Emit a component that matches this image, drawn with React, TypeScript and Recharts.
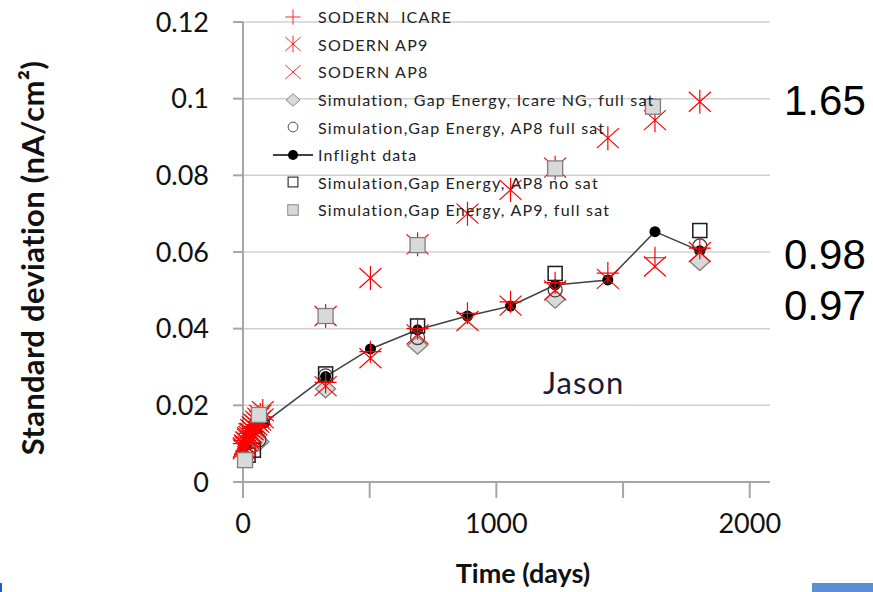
import React from "react";
import {
  ScatterChart,
  Scatter,
  XAxis,
  YAxis,
  CartesianGrid,
} from "recharts";

// days since launch for the main measurement epochs
const epochDays = [326, 503, 689, 886, 1056, 1232, 1440, 1626, 1803];

// early points (first ~3 months), crowded near the origin
const earlyDays = [3, 8, 14, 20, 26, 32, 38, 45, 52, 60, 68, 78];

const icareEarly = [0.0100, 0.0108, 0.0115, 0.0120, 0.0127, 0.0133, 0.0140, 0.0145, 0.0150, 0.0158, 0.0163, 0.0170];
const icareMain = [0.0260, 0.0340, 0.0400, 0.0440, 0.0470, 0.0520, 0.0545, 0.0585, 0.0610];

const ap9Early = [0.0085, 0.0095, 0.0105, 0.0117, 0.0128, 0.0138, 0.0145, 0.0152, 0.0160, 0.0168, 0.0175, 0.0185];
const ap9Main = [0.0433, 0.0532, 0.0620, 0.0700, 0.0762, 0.0820, 0.0897, 0.0944, 0.0992];

const ap8Early = [0.0090, 0.0098, 0.0106, 0.0113, 0.0120, 0.0128, 0.0135, 0.0142, 0.0148, 0.0155, 0.0160, 0.0166];
const ap8Main = [0.0250, 0.0323, 0.0385, 0.0420, 0.0460, 0.0500, 0.0530, 0.0562, 0.0600];

// simulations: early point(s) + the epochs
const simDays = [63, 326, 689, 1232, 1803];
const simIcareNg = [0.0105, 0.0243, 0.0357, 0.0477, 0.0575];
const simAp8Full = [0.0110, 0.0277, 0.0377, 0.0501, 0.0616];
const simAp8NoSatDays = [20, 41, 326, 689, 1232, 1803];
const simAp8NoSat = [0.0070, 0.0083, 0.0282, 0.0407, 0.0544, 0.0656];
const simAp9Days = [8, 63, 326, 689, 1232, 1618];
const simAp9Full = [0.0057, 0.0175, 0.0433, 0.0618, 0.0818, 0.0979];

const inflightDays = [10, 25, 40, 55, 85, 326, 503, 689, 886, 1056, 1232, 1440, 1626, 1803];
const inflight = [0.0095, 0.0105, 0.0115, 0.0130, 0.0155, 0.0275, 0.0347, 0.0397, 0.0433, 0.0459, 0.0514, 0.0527, 0.0653, 0.0603];

const xTicks = [0, 500, 1000, 1500, 2000];
const yTicks = [0, 0.02, 0.04, 0.06, 0.08, 0.1, 0.12];

const rightNotes = [
  { text: "1.65", top: 101 },
  { text: "0.98", top: 255 },
  { text: "0.97", top: 306 },
];

const toPoints = (xs: number[], ys: number[]) =>
  xs.map((x, i) => ({ x, y: ys[i] }));

const RED = "#ff0000";
const GRAY_FILL = "#d9d9d9";
const GRAY_EDGE = "#7f7f7f";

const Plus = ({ cx, cy }: any) => (
  <path d={`M${cx - 11},${cy}H${cx + 11}M${cx},${cy - 11}V${cy + 11}`} stroke={RED} strokeWidth={1.2} fill="none" />
);
const Cross = ({ cx, cy }: any) => (
  <path d={`M${cx - 11},${cy - 10}L${cx + 11},${cy + 10}M${cx - 11},${cy + 10}L${cx + 11},${cy - 10}`} stroke={RED} strokeWidth={1.2} fill="none" />
);
const Star = ({ cx, cy }: any) => (
  <path
    d={`M${cx - 11},${cy - 10}L${cx + 11},${cy + 10}M${cx - 11},${cy + 10}L${cx + 11},${cy - 10}M${cx},${cy - 12}V${cy + 12}`}
    stroke={RED}
    strokeWidth={1.2}
    fill="none"
  />
);
const Diamond = ({ cx, cy }: any) => (
  <path d={`M${cx},${cy - 9}L${cx + 10},${cy}L${cx},${cy + 9}L${cx - 10},${cy}Z`} fill={GRAY_FILL} stroke={GRAY_EDGE} strokeWidth={1.3} />
);
const OpenCircle = ({ cx, cy }: any) => (
  <circle cx={cx} cy={cy} r={7} fill="none" stroke="#404040" strokeWidth={1.3} />
);
const OpenSquare = ({ cx, cy }: any) => (
  <rect x={cx - 7} y={cy - 7} width={14} height={14} fill="none" stroke="#1a1a1a" strokeWidth={1.5} />
);
const GraySquare = ({ cx, cy }: any) => (
  <rect x={cx - 7.5} y={cy - 7.5} width={15} height={15} fill={GRAY_FILL} stroke={GRAY_EDGE} strokeWidth={1.3} />
);
const Dot = ({ cx, cy }: any) => <circle cx={cx} cy={cy} r={5.5} fill="#000" />;

const legendItems = [
  { name: "SODERN  ICARE", Mark: Plus },
  { name: "SODERN AP9", Mark: Star },
  { name: "SODERN AP8", Mark: Cross },
  { name: "Simulation, Gap Energy, Icare NG, full sat", Mark: Diamond },
  { name: "Simulation,Gap Energy, AP8 full sat", Mark: OpenCircle },
  { name: "Inflight data", Mark: null },
  { name: "Simulation,Gap Energy, AP8 no sat", Mark: OpenSquare },
  { name: "Simulation,Gap Energy, AP9, full sat", Mark: GraySquare },
];

// legend sits over the plot, partly above the top gridline, like the original
const LegendBox = () => (
  <div style={{ position: "absolute", left: 270, top: 3, fontFamily: "Lato, sans-serif", fontSize: 16, color: "#222" }}>
    {legendItems.map(({ name, Mark }) => (
      <div key={name} style={{ display: "flex", alignItems: "center", height: 27.6 }}>
        <svg width={46} height={26} style={{ marginRight: 2 }}>
          {Mark ? (
            <g transform="translate(23,13) scale(0.7) translate(-23,-13)">
              <Mark cx={23} cy={13} />
            </g>
          ) : (
            <g>
              <line x1={3} y1={13} x2={43} y2={13} stroke="#000" strokeWidth={1.3} />
              <circle cx={23} cy={13} r={5} fill="#000" />
            </g>
          )}
        </svg>
        <span style={{ letterSpacing: 1.2, whiteSpace: "pre" }}>{name}</span>
      </div>
    ))}
  </div>
);

const fmtY = (v: number) => String(Number(v.toFixed(2)));
const fmtX = (v: number) => (v % 1000 === 0 ? String(v) : "");

const tickStyle = { fontFamily: "Lato, sans-serif", fontSize: 27, fill: "#111" };

export default function App() {
  return (
    <div style={{ position: "absolute", left: 0, top: 0, width: 873, height: 592, background: "#fff", overflow: "hidden" }}>
      <ScatterChart width={873} height={592} margin={{ top: 22, right: 103, bottom: 0, left: 0 }}>
        <CartesianGrid vertical={false} stroke="#d0d0d0" strokeWidth={1.5} />
        <XAxis
          type="number"
          dataKey="x"
          domain={[0, 2080]}
          ticks={xTicks}
          tickFormatter={fmtX}
          height={110}
          tickSize={16}
          tickMargin={16}
          stroke="#a6a6a6"
          strokeWidth={2}
          tick={tickStyle}
        />
        <YAxis
          type="number"
          dataKey="y"
          domain={[0, 0.12]}
          ticks={yTicks}
          tickFormatter={fmtY}
          width={243}
          tickSize={10}
          tickMargin={24}
          stroke="#a6a6a6"
          strokeWidth={2}
          tick={tickStyle}
        />
        <Scatter
          name="Inflight data"
          data={toPoints(inflightDays, inflight)}
          line={{ stroke: "#404040", strokeWidth: 1.5 }}
          shape={Dot}
          isAnimationActive={false}
        />
        <Scatter name="Simulation, Gap Energy, Icare NG, full sat" data={toPoints(simDays, simIcareNg)} shape={Diamond} isAnimationActive={false} />
        <Scatter name="Simulation,Gap Energy, AP8 full sat" data={toPoints(simDays, simAp8Full)} shape={OpenCircle} isAnimationActive={false} />
        <Scatter name="Simulation,Gap Energy, AP8 no sat" data={toPoints(simAp8NoSatDays, simAp8NoSat)} shape={OpenSquare} isAnimationActive={false} />
        <Scatter name="SODERN  ICARE" data={toPoints([...earlyDays, ...epochDays], [...icareEarly, ...icareMain])} shape={Plus} isAnimationActive={false} />
        <Scatter name="SODERN AP8" data={toPoints([...earlyDays, ...epochDays], [...ap8Early, ...ap8Main])} shape={Cross} isAnimationActive={false} />
        <Scatter name="SODERN AP9" data={toPoints([...earlyDays, ...epochDays], [...ap9Early, ...ap9Main])} shape={Star} isAnimationActive={false} />
        <Scatter name="Simulation,Gap Energy, AP9, full sat" data={toPoints(simAp9Days, simAp9Full)} shape={GraySquare} isAnimationActive={false} />
      </ScatterChart>

      <LegendBox />

      {/* axis titles */}
      <div
        style={{
          position: "absolute",
          left: 32,
          top: 258,
          transform: "translate(-50%, -50%) rotate(-90deg)",
          whiteSpace: "nowrap",
          fontFamily: "Lato, sans-serif",
          fontWeight: 700,
          fontSize: 31,
          letterSpacing: 0.3,
          color: "#111",
        }}
      >
        Standard deviation (nA/cm²)
      </div>
      <div
        style={{
          position: "absolute",
          left: 523,
          top: 573,
          transform: "translate(-50%, -50%)",
          whiteSpace: "nowrap",
          fontFamily: "Lato, sans-serif",
          fontWeight: 700,
          fontSize: 27,
          lineHeight: "30px",
          color: "#111",
        }}
      >
        Time (days)
      </div>

      <div
        style={{
          position: "absolute",
          left: 543,
          top: 382,
          transform: "translateY(-50%)",
          fontFamily: "Lato, sans-serif",
          fontSize: 31,
          letterSpacing: 1,
          color: "#1a1a3a",
        }}
      >
        Jason
      </div>

      {rightNotes.map((n) => (
        <div
          key={n.text}
          style={{
            position: "absolute",
            left: 784,
            top: n.top,
            transform: "translateY(-50%)",
            fontFamily: "'Liberation Sans', Arial, sans-serif",
            fontSize: 42,
            color: "#000",
          }}
        >
          {n.text}
        </div>
      ))}

      {/* slide decoration edges */}
      <div style={{ position: "absolute", left: 0, top: 583, width: 2, height: 9, background: "#1f5fbf" }} />
      <div style={{ position: "absolute", left: 812, top: 583, width: 61, height: 9, background: "#5a8fd6" }} />
    </div>
  );
}
